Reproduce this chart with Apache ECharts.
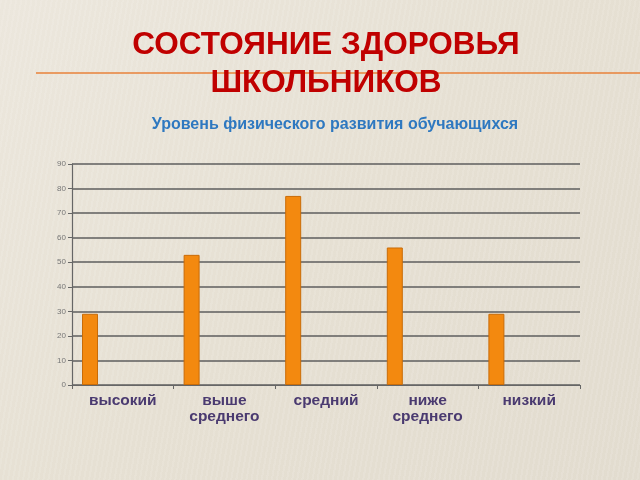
<!DOCTYPE html>
<html>
<head>
<meta charset="utf-8">
<script src="https://cdn.jsdelivr.net/npm/echarts@6/dist/echarts.min.js"></script>
<style>
html,body{margin:0;padding:0;}
body{
  width:640px;height:480px;overflow:hidden;
  background-color:#e6e0d3;
  background-image:
    repeating-linear-gradient(100deg, rgba(255,255,255,0.10) 0px, rgba(255,255,255,0.10) 2px, rgba(0,0,0,0.0) 2px, rgba(0,0,0,0.0) 5px),
    linear-gradient(135deg, #ece7dd 0%, #e6e0d3 50%, #e2dccf 100%);
}
#chart{width:640px;height:480px;}
</style>
</head>
<body>
<div id="chart"></div>
<script>
var categories = ['высокий', 'выше\nсреднего', 'средний', 'ниже\nсреднего', 'низкий'];
var values = [29, 53, 77, 56, 29];
var yTicks = [0, 10, 20, 30, 40, 50, 60, 70, 80, 90];

var chart = echarts.init(document.getElementById('chart'), null, {renderer: 'canvas'});
chart.setOption({
  backgroundColor: 'transparent',
  animation: false,
  title: [{
    text: 'СОСТОЯНИЕ ЗДОРОВЬЯ\nШКОЛЬНИКОВ',
    left: 321,
    top: 22,
    textAlign: 'center',
    textStyle: {
      fontFamily: 'Liberation Sans, Arial, sans-serif',
      fontWeight: 'bold',
      fontSize: 31.5,
      lineHeight: 37.5,
      color: '#c00000'
    },
    z: 5
  }, {
    text: 'Уровень физического развития обучающихся',
    left: 330,
    top: 112,
    textAlign: 'center',
    textStyle: {
      fontFamily: 'Liberation Sans, Arial, sans-serif',
      fontWeight: 'bold',
      fontSize: 16,
      color: '#2e78c0'
    }
  }],
  graphic: [{
    type: 'line',
    z: 0,
    shape: {x1: 36, y1: 73, x2: 640, y2: 73},
    style: {stroke: '#e8823a', lineWidth: 1.5}
  }],
  grid: {left: 72, right: 60, top: 164, bottom: 95},
  xAxis: {
    type: 'category',
    data: categories,
    axisLine: {show: true, lineStyle: {color: '#666', width: 1.2}},
    axisTick: {show: true, length: 4, lineStyle: {color: '#666'}},
    axisLabel: {
      interval: 0,
      margin: 8,
      fontFamily: 'Liberation Sans, Arial, sans-serif',
      fontWeight: 'bold',
      fontSize: 15.5,
      lineHeight: 16,
      color: '#4a3a70'
    }
  },
  yAxis: {
    type: 'value',
    min: yTicks[0],
    max: yTicks[yTicks.length - 1],
    interval: 10,
    axisLine: {show: true, lineStyle: {color: '#666', width: 1.2}},
    axisTick: {show: true, length: 4, lineStyle: {color: '#666'}},
    axisLabel: {
      margin: 6,
      fontFamily: 'Liberation Sans, Arial, sans-serif',
      fontSize: 8,
      color: '#777'
    },
    splitLine: {show: true, lineStyle: {color: '#5e5e5e', width: 1.5}}
  },
  series: [{
    type: 'bar',
    data: values,
    barWidth: 16,
    barGap: '0%',
    itemStyle: {color: '#f3890f', borderColor: '#c96c08', borderWidth: 1}
  }, {
    type: 'bar',
    data: values.map(function(){ return null; }),
    barWidth: 65.6,
    barGap: '0%',
    silent: true
  }]
});
</script>
</body>
</html>
